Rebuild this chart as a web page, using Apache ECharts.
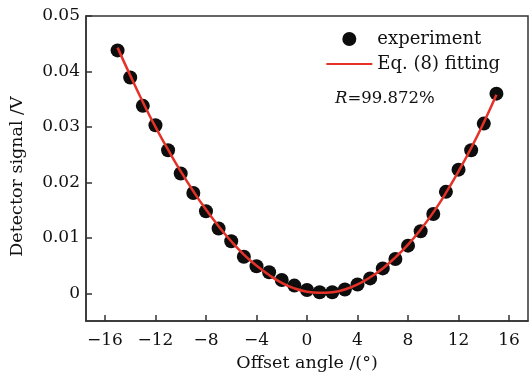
<!DOCTYPE html>
<html>
<head>
<meta charset="utf-8">
<script src="https://cdn.jsdelivr.net/npm/echarts@6/dist/echarts.min.js"></script>
<style>
  html, body { margin: 0; padding: 0; background: #fff; }
  #chart { width: 532px; height: 377px; }
</style>
</head>
<body>
<div id="chart"></div>
<script>
// 偏移角 (°)
var angles = [-15, -14, -13, -12, -11, -10, -9, -8, -7, -6, -5, -4, -3, -2, -1, 0,
  1, 2, 3, 4, 5, 6, 7, 8, 9, 10, 11, 12, 13, 14, 15];
// 实验点 (V)
var experiment = [0.0438, 0.0389, 0.0338, 0.0303, 0.0258, 0.0216, 0.0181, 0.0148, 0.0117, 0.0094,
  0.0066, 0.0049, 0.0038, 0.0024, 0.0014, 0.0006, 0.0002, 0.0002, 0.0007, 0.0016,
  0.0027, 0.0045, 0.0062, 0.0086, 0.0112, 0.0143, 0.0183, 0.0223, 0.0258, 0.0306, 0.0360];
// 拟合曲线 Eq.(8)
var fitting = [0.0443, 0.0393, 0.0345, 0.0300, 0.0259, 0.0220, 0.0184, 0.0151, 0.0121, 0.0094,
  0.0070, 0.0050, 0.0033, 0.0019, 0.0009, 0.0003, 0.0001, 0.0002, 0.0007, 0.0016,
  0.0029, 0.0045, 0.0065, 0.0088, 0.0115, 0.0146, 0.0181, 0.0220, 0.0262, 0.0308, 0.0358];
var xTicks = [-16, -12, -8, -4, 0, 4, 8, 12, 16];
var yTicks = [0, 0.01, 0.02, 0.03, 0.04, 0.05];

var font = 'DejaVu Serif';
var ink = '#111';
var myChart = echarts.init(document.getElementById('chart'));

var option = {
  animation: false,
  textStyle: { fontFamily: font, color: ink },
  grid: {
    left: 83, right: 4, top: 16, bottom: 54,
    show: true, borderColor: '#333', borderWidth: 1.5
  },
  legend: {
    orient: 'vertical',
    right: 27,
    top: 25,
    itemWidth: 46,
    itemHeight: 14,
    itemGap: 7,
    textStyle: { fontFamily: font, fontSize: 18, color: ink },
    data: [
      { name: 'experiment', icon: 'circle' },
      { name: 'Eq. (8) fitting', itemStyle: { opacity: 0 } }
    ]
  },
  title: {
    text: '{i|R}=99.872%',
    left: 330,
    top: 85,
    textStyle: {
      fontFamily: font, fontSize: 16.5, fontWeight: 'normal', color: ink,
      rich: { i: { fontFamily: font, fontSize: 16.5, fontStyle: 'italic', color: ink } }
    }
  },
  xAxis: {
    type: 'value',
    min: -17.5,
    max: 17.5,
    name: 'Offset angle /(°)',
    nameLocation: 'middle',
    nameGap: 31,
    nameTextStyle: { fontFamily: font, fontSize: 17.5, color: ink },
    axisLine: { onZero: false, lineStyle: { color: '#333', width: 1.5 } },
    axisTick: { inside: true, length: 6, customValues: xTicks, lineStyle: { color: '#333', width: 1.5 } },
    axisLabel: {
      customValues: xTicks,
      margin: 11,
      fontFamily: font, fontSize: 17, color: ink,
      formatter: function (v) { return String(v).replace('-', '\u2212'); }
    },
    splitLine: { show: false }
  },
  yAxis: {
    type: 'value',
    min: -0.005,
    max: 0.05,
    name: 'Detector signal /V',
    nameLocation: 'middle',
    nameGap: 60,
    nameTextStyle: { fontFamily: font, fontSize: 17.5, color: ink, padding: [0, 16, 0, 0] },
    axisLine: { show: true, onZero: false, lineStyle: { color: '#333', width: 1.5 } },
    axisTick: { show: true, inside: true, length: 6, customValues: yTicks, lineStyle: { color: '#333', width: 1.5 } },
    axisLabel: {
      customValues: yTicks,
      margin: 6,
      fontFamily: font, fontSize: 17, color: ink,
      formatter: function (v) { return v === 0 ? '0' : v.toFixed(2); }
    },
    splitLine: { show: false }
  },
  series: [
    {
      name: 'experiment',
      type: 'scatter',
      symbol: 'circle',
      symbolSize: 14,
      itemStyle: { color: '#0d0d0d', opacity: 1 },
      data: angles.map(function (a, i) { return [a, experiment[i]]; }),
      z: 2
    },
    {
      name: 'Eq. (8) fitting',
      type: 'line',
      smooth: true,
      symbol: 'none',
      lineStyle: { color: '#e53228', width: 2.5 },
      itemStyle: { color: '#e53228' },
      data: angles.map(function (a, i) { return [a, fitting[i]]; }),
      z: 3
    }
  ]
};

window.onresize = myChart.resize;
myChart.setOption(option);
</script>
</body>
</html>
